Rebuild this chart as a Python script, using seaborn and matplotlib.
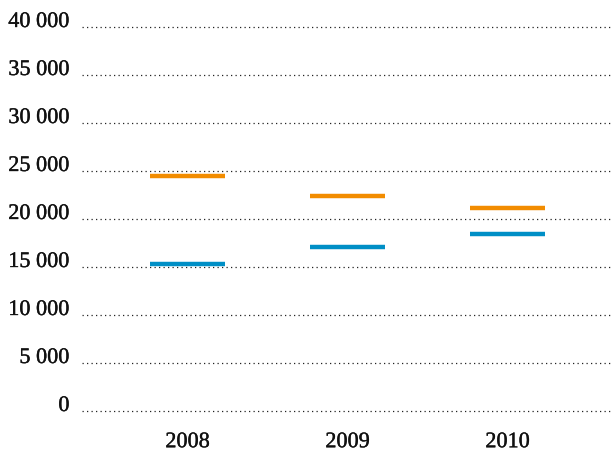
import matplotlib
matplotlib.use("Agg")
import matplotlib.pyplot as plt
import matplotlib.patheffects as pe
import seaborn as sns
import pandas as pd

years = ["2008", "2009", "2010"]
orange_values = [24500, 22400, 21100]
blue_values = [15300, 17100, 18400]
y_ticks = [0, 5000, 10000, 15000, 20000, 25000, 30000, 35000, 40000]
y_tick_labels = ["0", "5 000", "10 000", "15 000", "20 000", "25 000", "30 000", "35 000", "40 000"]

df = pd.DataFrame({
    "year": years * 2,
    "value": orange_values + blue_values,
    "series": ["orange"] * 3 + ["blue"] * 3,
})

sns.set_theme(style="white")
plt.rcParams["font.family"] = ["Liberation Serif", "DejaVu Serif"]

fig = plt.figure(figsize=(6.13, 4.52), dpi=100)
ax = fig.add_axes([82 / 613, (452 - 412) / 452, (610 - 82) / 613, (412 - 28) / 452])

sns.scatterplot(
    data=df, x="year", y="value", hue="series",
    palette={"orange": "#F28C00", "blue": "#008FC6"},
    marker="_", s=54 ** 2, linewidth=3.2, legend=False, ax=ax, zorder=3,
)

ax.set_ylim(0, 40000)
ax.set_xlim(-0.66, 2.64)
ax.set_yticks(y_ticks)
ax.set_yticklabels(y_tick_labels)
ax.set_xlabel("")
ax.set_ylabel("")
for sp in ax.spines.values():
    sp.set_visible(False)
ax.grid(False)
for yv in y_ticks:
    ax.axhline(yv, color="#222222", linestyle=(0, (1, 2.6)), linewidth=0.9, zorder=1, clip_on=False)
ax.tick_params(axis="y", length=0, pad=9, labelsize=16, colors="#111111")
ax.tick_params(axis="x", length=0, pad=16, labelsize=16, colors="#111111")

stroke = [pe.withStroke(linewidth=0.25, foreground="#111111")]
for lab in ax.get_yticklabels():
    lab.set_verticalalignment("baseline")
    lab.set_path_effects(stroke)
for lab in ax.get_xticklabels():
    lab.set_path_effects(stroke)

fig.savefig("out.png", dpi=100)
